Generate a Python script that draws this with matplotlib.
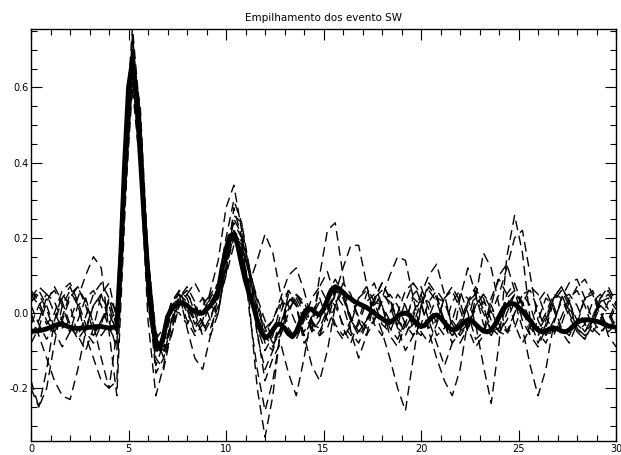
import matplotlib
matplotlib.use('Agg')
import matplotlib.pyplot as plt
import numpy as np
from matplotlib.ticker import MultipleLocator, FormatStrFormatter

plt.rcParams['axes.unicode_minus'] = False

# empilhamento (stack), amostrado a cada 0.2 s
t_stack = np.round(np.arange(151) * 0.2, 1)
stack = [
    -0.048, -0.048, -0.047, -0.045, -0.042, -0.038, -0.033, -0.030, -0.030, -0.034,
    -0.038, -0.040, -0.041, -0.040, -0.039, -0.038, -0.037, -0.036, -0.036, -0.038,
    -0.040, -0.038, -0.035, 0.150, 0.400, 0.600, 0.670, 0.580, 0.420, 0.250,
    0.100, -0.020, -0.080, -0.095, -0.060, -0.010, 0.010, 0.020, 0.025, 0.027,
    0.020, 0.010, 0.005, 0.000, 0.000, 0.010, 0.020, 0.035, 0.060, 0.120,
    0.170, 0.205, 0.210, 0.180, 0.130, 0.085, 0.050, 0.020, -0.020, -0.050,
    -0.066, -0.060, -0.045, -0.030, -0.030, -0.040, -0.055, -0.063, -0.050, -0.025,
    0.000, 0.012, 0.010, 0.000, -0.005, 0.010, 0.035, 0.060, 0.070, 0.065,
    0.055, 0.045, 0.038, 0.030, 0.025, 0.020, 0.015, 0.008, 0.000, -0.008,
    -0.015, -0.022, -0.025, -0.018, -0.008, -0.002, 0.000, -0.005, -0.018, -0.030,
    -0.036, -0.032, -0.020, -0.008, -0.005, -0.012, -0.025, -0.038, -0.045, -0.043,
    -0.035, -0.025, -0.018, -0.020, -0.030, -0.040, -0.048, -0.050, -0.045, -0.030,
    -0.010, 0.010, 0.020, 0.026, 0.024, 0.015, 0.005, -0.008, -0.020, -0.035,
    -0.045, -0.050, -0.048, -0.042, -0.040, -0.042, -0.048, -0.050, -0.045, -0.035,
    -0.025, -0.020, -0.018, -0.018, -0.020, -0.022, -0.025, -0.030, -0.034, -0.036,
    -0.038,
]

# eventos individuais, amostrados a cada 0.4 s
t_ev = np.round(np.arange(76) * 0.4, 1)

ev_a = [0.03, 0.06, 0.02, -0.04, -0.02, 0.04, 0.07, 0.02, -0.05, -0.03,
        0.02, -0.06, 0.38, 0.74, 0.50, 0.08, -0.14, -0.08, 0.03, 0.06,
        0.01, -0.05, -0.02, 0.06, 0.14, 0.28, 0.34, 0.22, 0.02, -0.20,
        -0.33, -0.22, -0.04, 0.05, 0.02, -0.06, -0.02, 0.07, 0.11, 0.04,
        -0.04, -0.08, -0.02, 0.05, 0.08, 0.02, -0.06, -0.09, -0.03, 0.05,
        0.07, 0.01, -0.06, -0.04, 0.03, 0.06, 0.00, -0.07, -0.05, 0.04,
        0.09, 0.05, -0.03, -0.08, -0.04, 0.03, 0.06, 0.01, -0.05, -0.08,
        -0.03, 0.04, 0.06, 0.01, -0.06, -0.09]
ev_b = [-0.20, -0.25, -0.15, -0.02, 0.05, 0.02, -0.06, -0.10, -0.04, 0.05,
        0.08, -0.02, 0.42, 0.70, 0.46, 0.05, -0.12, -0.15, -0.05, 0.04,
        0.06, 0.00, -0.06, -0.02, 0.06, 0.15, 0.22, 0.18, 0.10, 0.00,
        -0.08, -0.10, -0.03, 0.04, 0.02, -0.08, -0.05, 0.10, 0.22, 0.24,
        0.10, -0.05, -0.12, -0.06, 0.03, 0.08, 0.04, -0.04, -0.10, -0.06,
        0.02, 0.08, 0.05, -0.03, -0.08, -0.05, 0.03, 0.07, 0.02, -0.05,
        -0.02, 0.05, 0.08, 0.02, -0.06, -0.09, -0.04, 0.03, 0.06, 0.02,
        -0.04, -0.07, -0.02, 0.04, 0.07, 0.03]
ev_c = [0.05, 0.02, -0.03, 0.00, 0.06, 0.08, 0.03, -0.03, -0.06, -0.02,
        0.03, -0.03, 0.35, 0.66, 0.45, 0.10, -0.08, -0.10, -0.02, 0.05,
        0.03, -0.03, 0.00, 0.04, 0.08, 0.18, 0.24, 0.20, 0.12, 0.02,
        -0.06, -0.09, -0.04, 0.03, 0.05, 0.01, -0.04, -0.06, 0.00, 0.06,
        0.05, -0.01, -0.05, -0.02, 0.04, 0.06, 0.02, -0.04, -0.06, -0.01,
        0.04, 0.03, -0.03, -0.06, -0.02, 0.05, 0.04, -0.03, -0.14, -0.24,
        -0.08, 0.15, 0.26, 0.16, -0.02, -0.08, -0.03, 0.04, 0.05, 0.00,
        -0.05, -0.03, 0.03, 0.05, 0.01, -0.04]
ev_d = [-0.08, -0.04, 0.03, 0.07, 0.03, -0.03, -0.07, -0.04, 0.02, 0.05,
        -0.02, -0.10, 0.30, 0.62, 0.48, 0.15, -0.05, -0.09, -0.04, 0.02,
        0.05, 0.02, -0.03, -0.04, 0.02, 0.10, 0.18, 0.15, 0.08, 0.14,
        0.21, 0.16, 0.05, -0.04, -0.07, -0.02, 0.04, 0.07, 0.03, -0.03,
        -0.06, -0.02, 0.04, 0.06, 0.01, -0.05, -0.12, -0.20, -0.26, -0.12,
        0.02, 0.07, 0.04, -0.02, -0.05, -0.02, 0.03, 0.05, 0.01, -0.04,
        -0.06, 0.00, 0.05, 0.03, -0.03, -0.05, -0.01, 0.04, 0.07, 0.03,
        -0.02, -0.05, -0.02, 0.03, 0.05, 0.02]
ev_e = [0.00, -0.06, -0.12, -0.18, -0.22, -0.23, -0.15, -0.05, 0.02, 0.05,
        0.00, -0.05, 0.33, 0.64, 0.40, 0.02, -0.11, -0.06, 0.02, 0.04,
        -0.02, -0.06, -0.03, 0.03, 0.06, 0.16, 0.26, 0.24, 0.12, -0.05,
        -0.18, -0.12, -0.08, -0.16, -0.22, -0.12, 0.00, 0.04, -0.02, 0.05,
        0.12, 0.18, 0.18, 0.08, -0.03, -0.06, 0.00, 0.05, 0.02, -0.04,
        -0.06, -0.01, 0.04, 0.03, -0.03, -0.06, -0.03, 0.02, 0.05, 0.02,
        -0.03, -0.05, 0.00, 0.05, 0.06, 0.01, -0.05, -0.06, -0.01, 0.04,
        0.06, 0.02, -0.04, -0.06, -0.02, 0.03]
ev_f = [0.04, 0.07, 0.05, 0.00, -0.04, -0.02, 0.04, 0.10, 0.15, 0.12,
        -0.05, -0.22, 0.25, 0.68, 0.55, 0.15, -0.06, -0.12, -0.06, 0.02,
        0.05, 0.08, 0.04, -0.02, 0.00, 0.12, 0.20, 0.17, 0.06, -0.04,
        -0.10, -0.06, 0.02, 0.06, 0.03, -0.02, -0.04, 0.00, 0.04, 0.02,
        -0.03, -0.06, -0.03, 0.03, 0.05, 0.02, -0.02, -0.03, 0.03, 0.08,
        0.05, -0.02, -0.08, -0.14, -0.08, 0.04, 0.12, 0.05, -0.03, -0.06,
        -0.02, 0.04, 0.06, 0.02, -0.04, -0.06, -0.02, 0.04, 0.07, 0.03,
        -0.03, -0.05, -0.01, 0.04, 0.06, 0.02]
ev_g = [-0.03, 0.02, 0.05, 0.03, -0.02, -0.05, -0.02, 0.04, 0.06, 0.02,
        -0.04, -0.08, 0.28, 0.60, 0.38, -0.02, -0.22, -0.14, -0.02, 0.05,
        -0.04, -0.12, -0.15, -0.06, 0.05, 0.14, 0.20, 0.16, 0.07, -0.02,
        -0.05, -0.02, 0.03, 0.02, -0.03, -0.05, -0.01, 0.03, 0.02, -0.04,
        -0.07, -0.03, 0.04, 0.07, 0.03, -0.03, -0.05, 0.00, 0.06, 0.08,
        0.03, -0.05, -0.12, -0.18, -0.22, -0.15, -0.02, 0.06, 0.04, -0.02,
        -0.05, -0.02, 0.03, -0.04, -0.14, -0.22, -0.15, -0.03, 0.04, 0.05,
        0.02, -0.03, -0.05, -0.02, 0.03, 0.04]
ev_h = [0.06, 0.03, -0.02, -0.05, -0.01, 0.05, 0.07, 0.03, -0.03, -0.06,
        -0.03, 0.02, 0.45, 0.76, 0.52, 0.12, -0.07, -0.04, 0.03, 0.05,
        0.00, -0.04, -0.01, 0.05, 0.08, 0.20, 0.30, 0.24, 0.10, -0.06,
        -0.15, -0.10, 0.00, 0.06, 0.02, -0.06, -0.14, -0.18, -0.10, 0.02,
        0.08, 0.05, -0.02, -0.06, -0.02, 0.04, 0.10, 0.15, 0.14, 0.04,
        -0.05, -0.08, -0.03, 0.04, 0.06, 0.01, -0.05, 0.04, 0.16, 0.12,
        0.02, -0.05, -0.04, 0.02, 0.07, 0.05, -0.01, -0.05, -0.03, 0.03,
        0.07, 0.09, 0.05, -0.01, -0.05, -0.03]
ev_i = [-0.18, -0.25, -0.20, -0.08, 0.02, 0.06, 0.02, -0.05, -0.08, -0.03,
        0.04, 0.00, 0.40, 0.72, 0.48, 0.06, -0.16, -0.12, -0.02, 0.03,
        0.01, -0.02, 0.02, 0.05, 0.04, 0.10, 0.28, 0.20, 0.00, -0.15,
        -0.26, -0.18, -0.05, 0.03, 0.05, 0.02, -0.03, -0.04, 0.01, 0.06,
        0.04, -0.02, -0.06, -0.03, 0.02, 0.05, 0.03, -0.02, -0.05, -0.03,
        0.03, 0.06, 0.03, -0.03, -0.06, -0.03, 0.02, 0.04, 0.00, -0.05,
        -0.04, 0.02, 0.05, 0.03, -0.02, -0.04, 0.00, 0.05, 0.04, -0.01,
        -0.05, -0.07, -0.03, 0.02, 0.00, -0.05]
ev_j = [0.02, -0.03, -0.07, -0.03, 0.04, 0.07, 0.02, -0.06, -0.12, -0.18,
        -0.20, -0.05, 0.36, 0.68, 0.44, 0.08, -0.09, -0.05, 0.01, 0.00,
        -0.03, 0.01, 0.04, 0.02, 0.00, 0.14, 0.22, 0.19, 0.10, 0.01,
        -0.04, -0.02, 0.04, 0.10, 0.12, 0.06, -0.02, -0.05, 0.00, 0.05,
        0.02, -0.05, -0.08, -0.03, 0.04, 0.08, 0.04, -0.02, -0.04, 0.00,
        0.05, 0.10, 0.13, 0.05, -0.04, -0.08, -0.04, 0.02, 0.05, 0.01,
        -0.05, -0.06, 0.00, 0.05, 0.02, -0.05, -0.08, -0.03, 0.04, 0.08,
        0.09, 0.04, -0.02, -0.05, -0.03, 0.02]
ev_k = [-0.06, -0.02, 0.04, 0.06, 0.02, -0.04, -0.06, -0.01, 0.05, 0.08,
        0.04, -0.04, 0.32, 0.65, 0.50, 0.12, -0.10, -0.08, 0.00, 0.06,
        0.04, -0.02, -0.05, -0.01, 0.04, 0.12, 0.21, 0.18, 0.11, 0.04,
        -0.02, -0.07, -0.05, 0.01, 0.04, 0.00, -0.05, -0.02, 0.05, 0.09,
        0.05, -0.02, -0.05, -0.02, 0.03, 0.02, -0.04, -0.07, -0.02, 0.04,
        0.02, -0.04, -0.02, 0.04, 0.07, 0.03, -0.04, -0.09, -0.06, 0.02,
        0.10, 0.13, 0.06, -0.02, -0.06, -0.02, 0.04, 0.02, -0.04, -0.06,
        -0.02, 0.04, 0.05, 0.00, -0.04, -0.02]
ev_l = [0.03, 0.05, 0.01, -0.05, -0.09, -0.05, 0.02, 0.04, -0.03, -0.12,
        -0.20, -0.18, 0.30, 0.70, 0.53, 0.14, -0.09, -0.11, -0.03, 0.04,
        0.07, 0.03, -0.03, -0.06, 0.00, 0.13, 0.25, 0.21, 0.12, 0.03,
        -0.04, -0.08, -0.06, 0.00, 0.05, 0.03, -0.02, -0.06, -0.04, 0.02,
        0.06, 0.04, -0.01, -0.04, -0.02, 0.03, 0.05, 0.02, -0.03, -0.06,
        -0.03, 0.03, 0.06, 0.03, -0.02, -0.05, -0.03, 0.01, 0.03, 0.00,
        0.05, 0.12, 0.20, 0.22, 0.10, -0.02, -0.06, -0.02, 0.03, 0.01,
        -0.04, -0.06, -0.02, 0.03, 0.04, 0.01]

eventos = [ev_a, ev_b, ev_c, ev_d, ev_e, ev_f, ev_g, ev_h, ev_i, ev_j, ev_k, ev_l]

fig = plt.figure(figsize=(6.21, 4.55), dpi=100)
ax = fig.add_axes([0.050, 0.031, 0.942, 0.905])

for ev in eventos:
    ax.plot(t_ev, ev, color='black', lw=1.0, ls=(0, (7, 4)))
ax.plot(t_stack, stack, color='black', lw=3.5)

ax.set_xlim(0, 30)
ax.set_ylim(-0.34, 0.755)
ax.xaxis.set_major_locator(MultipleLocator(5))
ax.xaxis.set_minor_locator(MultipleLocator(1))
ax.yaxis.set_major_locator(MultipleLocator(0.2))
ax.yaxis.set_minor_locator(MultipleLocator(0.05))
ax.yaxis.set_major_formatter(FormatStrFormatter('%.1f'))
ax.tick_params(which='both', direction='in', top=True, right=True, labelsize=7, pad=2)
ax.tick_params(which='major', length=8, width=0.8)
ax.tick_params(which='minor', length=4, width=0.8)
for s in ax.spines.values():
    s.set_linewidth(1.0)

ax.set_title('Empilhamento dos evento SW', fontsize=7.5, pad=6)

fig.savefig('out.png', dpi=100)
